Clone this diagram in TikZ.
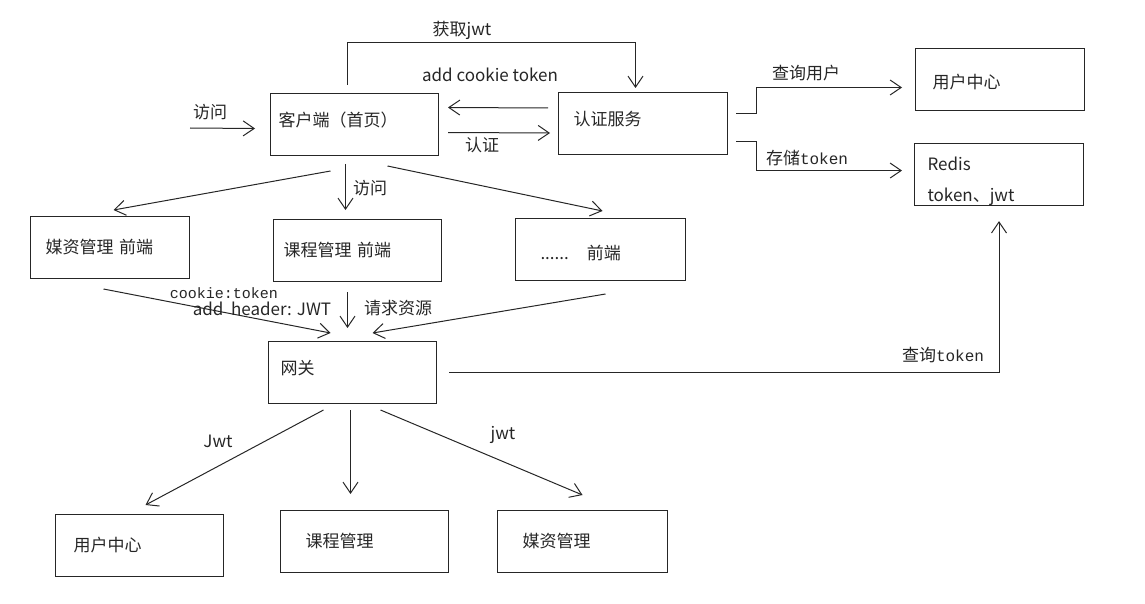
\documentclass[tikz,border=0pt]{standalone}
\usepackage{fontspec}
\setmainfont{Noto Sans CJK SC}
\newfontfamily\monofont{Liberation Mono}
\usetikzlibrary{arrows.meta}

\begin{document}
\begin{tikzpicture}[x=1pt,y=-1pt,color=black!85,line width=1pt,
    font=\fontsize{17pt}{20pt}\selectfont,
    box/.style={draw,anchor=north west,minimum height=62pt,align=left,inner ysep=0pt},
    arr/.style={-{Straight Barb[length=11pt,width=15pt]}},
    lbl/.style={inner sep=1pt}]
    \useasboundingbox (0,0) rectangle (1145,604);
    \node[box,inner xsep=8pt,text width=152pt] (client) at (270,93) {客户端（首页）\rule[-10pt]{0pt}{1pt}};
    \node[box,inner xsep=15pt,text width=139pt] (auth) at (558,92) {认证服务\rule[-10pt]{0pt}{1pt}};
    \node[box,inner xsep=17pt,text width=135pt] (ucenter) at (915,48) {\rule{0pt}{20pt}用户中心};
    \node[box,inner xsep=13pt,text width=143pt] (redis) at (914,143) {\rule{0pt}{27pt}Redis\\[11pt]token、jwt};
    \node[box,inner xsep=15pt,text width=129pt] (mediafe) at (30,216) {媒资管理 前端};
    \node[box,inner xsep=10pt,text width=148pt] (coursefe) at (273,219) {课程管理 前端};
    \node[box,inner xsep=25pt,text width=120pt] (otherfe) at (515,218) {\rule{0pt}{22pt}......\hspace{18pt}前端};
    \node[box,inner xsep=12pt,text width=144pt] (gateway) at (268,341) {网关\rule[-10pt]{0pt}{1pt}};
    \node[box,inner xsep=18pt,text width=132pt] (ucenterb) at (55,514) {用户中心};
    \node[box,inner xsep=25pt,text width=118pt] (course) at (280,510) {课程管理};
    \node[box,inner xsep=25pt,text width=120pt] (media) at (497,510) {媒资管理};
    \node[lbl] (visit) at (210,112) {访问};
    \node[lbl] (getjwt) at (462,30) {获取jwt};
    \node[lbl] (addcookie) at (490,75) {add cookie token};
    \node[lbl] (authlbl) at (482,145) {认证};
    \node[lbl] (queryuser) at (806,73) {查询用户};
    \node[lbl] (savetoken) at (807,158) {存储{\monofont\fontsize{16pt}{18pt}\selectfont token}};
    \node[lbl] (visitfe) at (370,188) {访问};
    \node[lbl,font=\monofont\fontsize{15pt}{17pt}\selectfont] (cookielbl) at (224,293) {cookie:token};
    \node[lbl] (headerlbl) at (262,309) {add\ \ header: JWT};
    \node[lbl] (reqres) at (398,308) {请求资源};
    \node[lbl] (querytoken) at (943,355) {查询{\monofont\fontsize{16pt}{18pt}\selectfont token}};
    \node[lbl] (jwtleft) at (218,441) {Jwt};
    \node[lbl] (jwtright) at (503,435) {jwt};
    \coordinate (entry) at (190,128);
    \draw[arr] (entry) -- ([xshift=-15pt,yshift=-4pt]client.west);
    \draw[arr] ([xshift=-7pt,yshift=8pt]client.north) -- ++(0,-42) -| ([xshift=-7.5pt,yshift=4pt]auth.north);
    \draw[arr] ([xshift=-10pt,yshift=15.5pt]auth.west) -- ([xshift=9pt,yshift=17pt]client.east);
    \draw[arr] ([xshift=9pt,yshift=-8pt]client.east) -- ([xshift=-8pt,yshift=-9.5pt]auth.west);
    \draw[arr] ([xshift=8pt,yshift=9.5pt]auth.east) -- ++(20,0) |- ([xshift=-13pt,yshift=-8pt]ucenter.west);
    \draw[arr] ([xshift=8pt,yshift=-18.5pt]auth.east) -- ++(20,0) |- ([xshift=-12pt,yshift=4pt]redis.west);
    \draw[arr] ([xshift=-24pt,yshift=-15pt]client.south) -- ([xshift=3.5pt,yshift=6pt]mediafe.north);
    \draw[arr] ([xshift=-9pt,yshift=-8pt]client.south) -- ([xshift=-12pt,yshift=9pt]coursefe.north);
    \draw[arr] ([xshift=33pt,yshift=-10pt]client.south) -- ([xshift=2pt,yshift=7pt]otherfe.north);
    \draw[arr] ([xshift=-6.5pt,yshift=-10pt]mediafe.south) -- ([xshift=-22pt,yshift=8pt]gateway.north);
    \draw[arr] ([xshift=-10pt,yshift=-10pt]coursefe.south) -- ([xshift=-5pt,yshift=13pt]gateway.north);
    \draw[arr] ([xshift=5pt,yshift=-13pt]otherfe.south) -- ([xshift=20pt,yshift=8pt]gateway.north);
    \draw[arr] ([xshift=12pt]gateway.east) -| ([yshift=-15pt]redis.south);
    \draw[arr] ([xshift=-29pt,yshift=-6pt]gateway.south) -- ([xshift=6pt,yshift=9pt]ucenterb.north);
    \draw[arr] ([xshift=-2pt,yshift=-6pt]gateway.south) -- ([xshift=-14pt,yshift=16pt]course.north);
    \draw[arr] ([xshift=28pt,yshift=-6pt]gateway.south) -- ([yshift=15pt]media.north);
\end{tikzpicture}
\end{document}
